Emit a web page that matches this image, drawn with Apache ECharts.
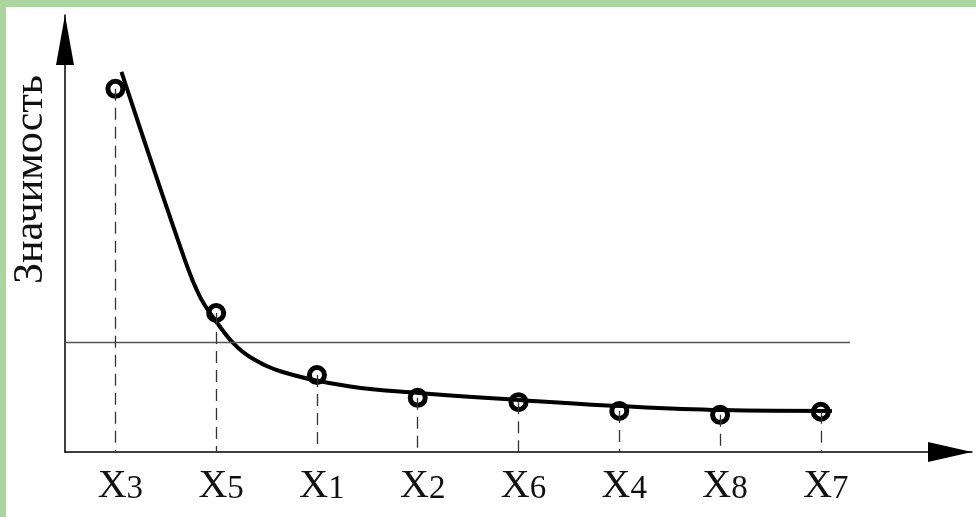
<!DOCTYPE html>
<html>
<head>
<meta charset="utf-8">
<script src="https://cdn.jsdelivr.net/npm/echarts@6/dist/echarts.min.js"></script>
<style>
  html, body { margin: 0; padding: 0; background: #acd49f; }
  #main { width: 976px; height: 517px; }
</style>
</head>
<body>
<div id="main"></div>
<script>
// категории (факторы) по убыванию значимости
var categories = ['X3', 'X5', 'X1', 'X2', 'X6', 'X4', 'X8', 'X7'];
// значимость каждого фактора (кружки)
var values = [83.1, 31.8, 17.6, 12.4, 11.4, 9.4, 8.5, 9.2];
// сглаживающая кривая
var fitX = [0.06, 0.69, 0.84, 0.99, 1.17, 1.34, 1.66, 2.33, 3.01, 4.0, 5.02, 6.02, 7.11];
var fitY = [87.0, 43.9, 35.5, 30.2, 24.9, 21.7, 18.3, 15.0, 13.5, 11.9, 10.5, 9.6, 9.4];
// пороговый уровень
var threshold = 25.2;
var thresholdEnd = 7.29;

var myChart = echarts.init(document.getElementById('main'));

var fitData = fitX.map(function (x, i) { return [x, fitY[i]]; });
var dropLines = values.map(function (v, i) {
    return [{ coord: [i, v] }, { coord: [i, 0] }];
});

var option = {
    backgroundColor: '#acd49f',
    animation: false,
    graphic: [
        {
            type: 'rect',
            left: 6, top: 7, z: -10,
            shape: { width: 970, height: 510 },
            style: { fill: '#ffffff' }
        }
    ],
    grid: { left: 65, right: 4, top: 15, bottom: 65 },
    xAxis: [
        {
            type: 'category',
            data: categories.concat(['']),
            boundaryGap: true,
            axisLine: {
                lineStyle: { color: '#000', width: 1.5 },
                symbol: ['none', 'triangle'],
                symbolSize: [20, 44],
                symbolOffset: [0, -22]
            },
            axisTick: { show: false },
            axisLabel: {
                margin: 14,
                padding: [0, 0, 0, 10],
                formatter: function (name) {
                    if (!name) return '';
                    return '{x|' + name.charAt(0) + '}{s|' + name.slice(1) + '}';
                },
                rich: {
                    x: { fontFamily: 'Liberation Serif', fontSize: 40, color: '#111', lineHeight: 40, verticalAlign: 'bottom' },
                    s: { fontFamily: 'Liberation Serif', fontSize: 33, color: '#111', lineHeight: 40, verticalAlign: 'bottom' }
                }
            }
        },
        {
            type: 'value',
            show: false,
            min: -0.5,
            max: 8.5
        }
    ],
    yAxis: {
        type: 'value',
        min: 0,
        max: 100,
        name: 'Значимость',
        nameLocation: 'middle',
        nameRotate: 90,
        nameGap: 13,
        nameTextStyle: {
            fontFamily: 'Liberation Serif',
            fontSize: 42,
            color: '#111',
            padding: [0, 0, 0, 108]
        },
        axisLine: {
            show: true,
            onZero: false,
            lineStyle: { color: '#000', width: 1.5 },
            symbol: ['none', 'triangle'],
            symbolSize: [18, 50],
            symbolOffset: [0, -25]
        },
        axisTick: { show: false },
        axisLabel: { show: false },
        splitLine: { show: false }
    },
    series: [
        {
            type: 'line',
            xAxisIndex: 1,
            data: fitData,
            smooth: 0.4,
            showSymbol: false,
            lineStyle: { color: '#000', width: 4 },
            z: 3,
            markLine: {
                silent: true,
                symbol: ['none', 'none'],
                label: { show: false },
                lineStyle: { color: '#555', width: 1.3, type: 'solid' },
                data: [[{ coord: [-0.5, threshold] }, { coord: [thresholdEnd, threshold] }]]
            }
        },
        {
            type: 'scatter',
            xAxisIndex: 0,
            data: values,
            symbol: 'circle',
            symbolSize: 15,
            itemStyle: { color: 'rgba(0,0,0,0)', borderColor: '#000', borderWidth: 5, opacity: 1 },
            z: 4,
            markLine: {
                silent: true,
                symbol: ['none', 'none'],
                label: { show: false },
                lineStyle: { color: '#333', width: 1.3, type: [12, 7] },
                data: dropLines
            }
        }
    ]
};

myChart.setOption(option);
</script>
</body>
</html>
